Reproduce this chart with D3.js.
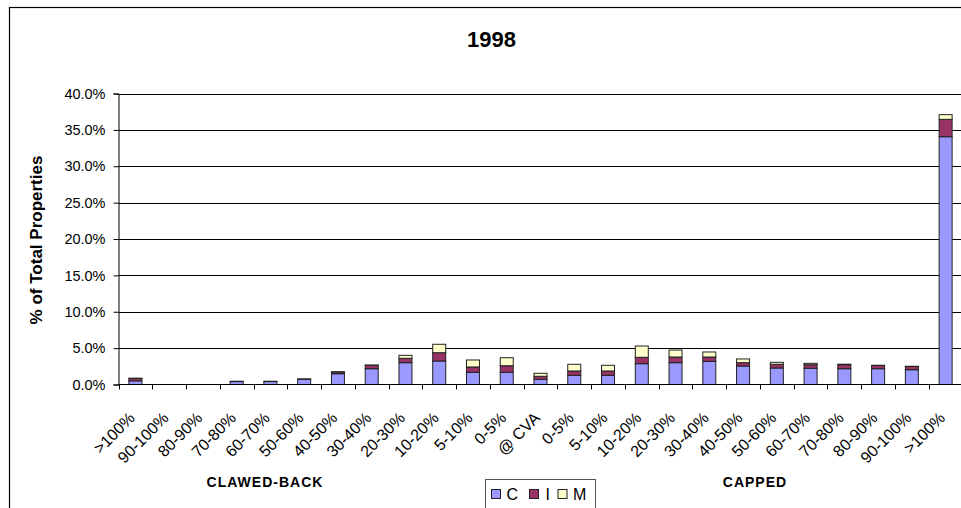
<!DOCTYPE html>
<html><head><meta charset="utf-8">
<script src="https://cdn.jsdelivr.net/npm/d3@7"></script>
<style>
html,body{margin:0;padding:0;background:#fff;}
svg{display:block;font-family:"Liberation Sans",Arial,sans-serif;}
</style></head>
<body>
<svg id="chart" width="961" height="508"></svg>
<script>
const categories = [">100%","90-100%","80-90%","70-80%","60-70%","50-60%","40-50%","30-40%","20-30%","10-20%","5-10%","0-5%","@ CVA","0-5%","5-10%","10-20%","20-30%","30-40%","40-50%","50-60%","60-70%","70-80%","80-90%","90-100%",">100%"];
const seriesNames = ["C","I","M"];
const seriesC = [0.50,0,0,0.40,0.40,0.72,1.48,2.17,3.00,3.23,1.68,1.68,0.71,1.26,1.26,2.86,3.00,3.19,2.54,2.27,2.23,2.17,2.17,2.03,34.06];
const seriesI = [0.32,0,0,0.05,0.05,0.05,0.23,0.46,0.60,1.14,0.73,0.90,0.42,0.60,0.60,0.88,0.78,0.59,0.46,0.51,0.49,0.56,0.45,0.45,2.39];
const seriesM = [0.05,0,0,0,0,0,0.05,0.05,0.41,1.16,0.96,1.10,0.41,0.92,0.78,1.55,0.96,0.69,0.51,0.27,0.19,0.06,0.02,0.02,0.64];
const yTicks = [0,5,10,15,20,25,30,35,40];
const colors = {C:"#9999FF", I:"#993366", M:"#FFFFCC"};

(function(){
const svg = d3.select("#chart");
// chart frame
svg.append("rect").attr("x",9.5).attr("y",7.5).attr("width",980).attr("height",520)
  .attr("fill","#fff").attr("stroke","#000").attr("stroke-width",1.2);

const pL = 118.5, pR = 962.5, pT = 93.5, pB = 384.5;
const x = d3.scaleBand().domain(d3.range(categories.length)).range([pL,pR]).paddingInner(0.615).paddingOuter(0.3075);
const xb = d3.scaleBand().domain(d3.range(categories.length)).range([pL,pR]);
const y = d3.scaleLinear().domain([0,40]).range([pB,pT]);

// gridlines
svg.append("g").selectAll("line").data(yTicks.filter(d=>d>0)).join("line")
  .attr("x1",pL).attr("x2",pR).attr("y1",d=>Math.round(y(d))+0.5).attr("y2",d=>Math.round(y(d))+0.5)
  .attr("stroke","#000").attr("stroke-width",1);

// stacked bars
const rows = categories.map((c,i)=>({i, C:seriesC[i], I:seriesI[i], M:seriesM[i]}));
const stack = d3.stack().keys(seriesNames)(rows);
svg.append("g").selectAll("g").data(stack).join("g")
  .attr("fill",d=>colors[d.key])
  .selectAll("rect").data(d=>d.filter(v=>v[1]-v[0]>0)).join("rect")
  .attr("x",d=>x(d.data.i))
  .attr("width",x.bandwidth())
  .attr("y",d=>y(d[1]))
  .attr("height",d=>y(d[0])-y(d[1]))
  .attr("stroke","#222").attr("stroke-width",1);

// y axis
const yAxis = d3.axisLeft(y).tickValues(yTicks).tickSize(5).tickPadding(8).tickFormat(d=>d3.format(".1f")(d)+"%");
const gy = svg.append("g").attr("transform",`translate(${pL},0)`).call(yAxis);
gy.select(".domain").attr("stroke","#000");
gy.selectAll(".tick line").attr("stroke","#000");
gy.selectAll("text").attr("font-size","14.5px").attr("fill","#000").attr("font-family","Liberation Sans, Arial, sans-serif");

// x axis
const gx = svg.append("g").attr("transform",`translate(0,${pB})`);
gx.append("line").attr("x1",pL).attr("x2",pR).attr("y1",0).attr("y2",0).attr("stroke","#000");
gx.selectAll("line.tk").data(d3.range(categories.length+1)).join("line").attr("class","tk")
  .attr("x1",d=>Math.round(pL+d*xb.step())+0.5).attr("x2",d=>Math.round(pL+d*xb.step())+0.5)
  .attr("y1",0).attr("y2",5).attr("stroke","#000");
gx.selectAll("text").data(categories).join("text")
  .attr("transform",(d,i)=>`translate(${xb(i)+xb.bandwidth()/2+0.5},34.5) rotate(-45)`)
  .attr("text-anchor","end").attr("font-size","16px").attr("fill","#000")
  .text(d=>d);

// title
svg.append("text").attr("x",491.5).attr("y",46.5).attr("text-anchor","middle")
  .attr("font-size","22px").attr("font-weight","bold").text("1998");

// y label
svg.append("text").attr("transform","translate(42,240) rotate(-90)").attr("text-anchor","middle")
  .attr("font-size","17px").attr("font-weight","bold").text("% of Total Properties");

// group labels
svg.append("text").attr("x",265).attr("y",487).attr("text-anchor","middle")
  .attr("font-size","14px").attr("font-weight","bold").attr("letter-spacing","1px").text("CLAWED-BACK");
svg.append("text").attr("x",755).attr("y",487).attr("text-anchor","middle")
  .attr("font-size","14px").attr("font-weight","bold").attr("letter-spacing","1px").text("CAPPED");

// legend
const lg = svg.append("g");
lg.append("rect").attr("x",485.5).attr("y",479.5).attr("width",110).attr("height",40)
  .attr("fill","#fff").attr("stroke","#555");
const legX = [491, 529, 557.5];
const legTX = [506.5, 545.5, 573];
seriesNames.forEach((k,i)=>{
  lg.append("rect").attr("x",legX[i]+0.5).attr("y",489.5).attr("width",9).attr("height",9)
    .attr("fill",colors[k]).attr("stroke","#222");
  lg.append("text").attr("x",legTX[i]).attr("y",499.5).attr("font-size","16px").text(k);
});
})();
</script>
</body></html>
